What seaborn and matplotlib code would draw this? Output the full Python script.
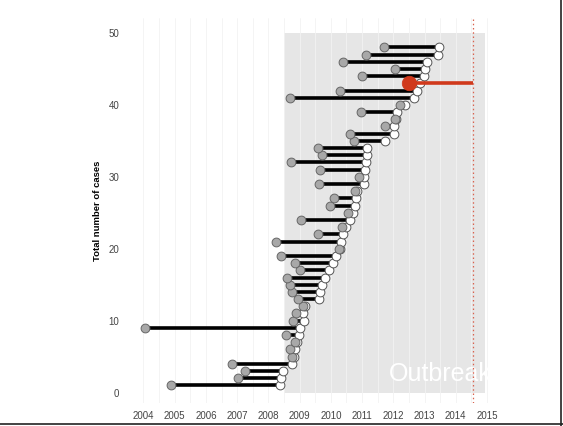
import numpy as np
import pandas as pd
import matplotlib
matplotlib.use("Agg")
import matplotlib.pyplot as plt
import seaborn as sns
from matplotlib.patches import Rectangle
from matplotlib.lines import Line2D

# case number (cumulative count) with onset date and report date (decimal years)
case_no = list(range(1, 49))
onset = [2004.89, 2007.03, 2007.24, 2006.83, 2008.76, 2008.70, 2008.85, 2008.58,
         2004.05, 2008.78, 2008.90, 2009.10, 2008.95, 2008.76, 2008.68, 2008.61,
         2009.00, 2008.85, 2008.39, 2010.25, 2008.26, 2009.58, 2010.36, 2009.04,
         2010.56, 2009.97, 2010.10, 2010.78, 2009.62, 2010.90, 2009.66, 2008.72,
         2009.72, 2009.58, 2010.75, 2010.62, 2011.72, 2012.05, 2010.97, 2012.22,
         2008.70, 2010.28, 2012.49, 2011.00, 2012.04, 2010.39, 2011.11, 2011.70]
report = [2008.38, 2008.40, 2008.47, 2008.76, 2008.83, 2008.86, 2008.92, 2008.97,
          2009.01, 2009.13, 2009.12, 2009.18, 2009.61, 2009.66, 2009.72, 2009.82,
          2009.93, 2010.07, 2010.18, 2010.30, 2010.33, 2010.39, 2010.47, 2010.60,
          2010.71, 2010.78, 2010.82, 2010.84, 2011.05, 2011.07, 2011.10, 2011.14,
          2011.16, 2011.16, 2011.72, 2012.01, 2012.01, 2012.08, 2012.12, 2012.39,
          2012.65, 2012.76, 2012.85, 2012.97, 2013.03, 2013.08, 2013.44, 2013.46]
open_case = 43          # ongoing case, drawn in red
today = 2014.55         # dotted reference line
outbreak_start = 2008.49
outbreak_end = 2014.92
year_ticks = list(range(2004, 2016))
y_ticks = [0, 10, 20, 30, 40, 50]

df = pd.DataFrame({"case": case_no, "onset": onset, "report": report})
closed = df[df["case"] != open_case]
opened = df[df["case"] == open_case]

sns.set_style("white")
plt.rcParams["font.family"] = ["Liberation Sans", "DejaVu Sans"]

fig = plt.figure(figsize=(5.63, 4.26), dpi=100)
ax = fig.add_axes([0.227, 0.054, 0.663, 0.904])

# outbreak window
rect = Rectangle((outbreak_start, 0), outbreak_end - outbreak_start, 50,
                 facecolor="#e6e6e6", edgecolor="none", zorder=0)
ax.add_patch(rect)

# faint vertical grid every half year
for gx in np.arange(2004, 2015.01, 0.5):
    ax.axvline(gx, color="#f3f3f3", lw=0.6, zorder=0.5)

txt = ax.text(2011.85, 1.6, "Outbreak", color="white", fontsize=18,
              ha="left", va="baseline", zorder=1)
txt.set_clip_path(rect)

ax.axvline(today, color="#d9634f", lw=0.9, ls=(0, (1.2, 2.2)), zorder=1)

ax.hlines(df["case"], df["onset"], df["report"], color="black", lw=2.6, zorder=2)

sns.scatterplot(data=df, x="report", y="case", s=40, color="white",
                edgecolor="#555555", linewidth=0.7, zorder=3, ax=ax)
sns.scatterplot(data=closed, x="onset", y="case", s=40, color="#a8a8a8",
                edgecolor="#666666", linewidth=0.7, zorder=4, ax=ax)

# ongoing case
ax.hlines(opened["case"], opened["onset"], today, color="#d0391c", lw=2.6, zorder=5)
sns.scatterplot(data=opened, x="onset", y="case", s=110, color="#d0391c",
                edgecolor="#d0391c", linewidth=0.5, zorder=6, ax=ax)

ax.set_xlim(2003.5, 2015.45)
ax.set_ylim(-1.45, 52.1)
ax.set_xticks(year_ticks)
ax.set_yticks(y_ticks)
ax.tick_params(axis="both", labelsize=7, colors="#444444", length=0, pad=6)
ax.set_xlabel("")
ax.set_ylabel("Total number of cases", fontsize=6.8, fontweight="bold",
              color="black", labelpad=5)
for s in ax.spines.values():
    s.set_visible(False)
ax.grid(False)

# screenshot frame on bottom and right
fig.add_artist(Line2D([0, 1], [0.004, 0.004], transform=fig.transFigure,
                      color="#222222", lw=1.2))
fig.add_artist(Line2D([0.997, 0.997], [0, 1], transform=fig.transFigure,
                      color="#222222", lw=1.2))

fig.savefig("out.png", dpi=100)
